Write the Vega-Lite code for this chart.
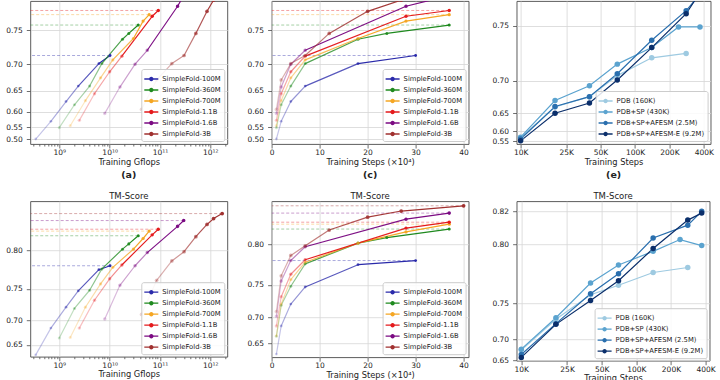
{
"$schema": "https://vega.github.io/schema/vega-lite/v6.json",
"padding": {"left": 4.3, "right": 3, "top": 0, "bottom": 0},
"datasets": {
"sf": [
{"model":"SimpleFold-100M","step":1,"gflops":3.4e8,"top":0.500,"tm":0.625},
{"model":"SimpleFold-100M","step":2,"gflops":6.8e8,"top":0.571,"tm":0.685},
{"model":"SimpleFold-100M","step":4,"gflops":1.36e9,"top":0.626,"tm":0.722},
{"model":"SimpleFold-100M","step":7,"gflops":2.38e9,"top":0.660,"tm":0.747},
{"model":"SimpleFold-100M","step":18,"gflops":6.12e9,"top":0.701,"tm":0.776},
{"model":"SimpleFold-100M","step":30,"gflops":1.02e10,"top":0.714,"tm":0.781},
{"model":"SimpleFold-360M","step":1,"gflops":1e9,"top":0.549,"tm":0.665},
{"model":"SimpleFold-360M","step":2,"gflops":2e9,"top":0.618,"tm":0.720},
{"model":"SimpleFold-360M","step":4,"gflops":4e9,"top":0.660,"tm":0.748},
{"model":"SimpleFold-360M","step":7,"gflops":7e9,"top":0.701,"tm":0.777},
{"model":"SimpleFold-360M","step":18,"gflops":1.8e10,"top":0.738,"tm":0.801},
{"model":"SimpleFold-360M","step":24,"gflops":2.4e10,"top":0.746,"tm":0.807},
{"model":"SimpleFold-360M","step":37,"gflops":3.7e10,"top":0.757,"tm":0.816},
{"model":"SimpleFold-700M","step":1,"gflops":1.65e9,"top":0.556,"tm":0.666},
{"model":"SimpleFold-700M","step":2,"gflops":3.3e9,"top":0.628,"tm":0.722},
{"model":"SimpleFold-700M","step":4,"gflops":6.6e9,"top":0.676,"tm":0.757},
{"model":"SimpleFold-700M","step":7,"gflops":1.155e10,"top":0.707,"tm":0.779},
{"model":"SimpleFold-700M","step":18,"gflops":2.97e10,"top":0.739,"tm":0.801},
{"model":"SimpleFold-700M","step":28,"gflops":4.62e10,"top":0.762,"tm":0.813},
{"model":"SimpleFold-700M","step":37,"gflops":6.105e10,"top":0.770,"tm":0.821},
{"model":"SimpleFold-1.1B","step":1,"gflops":2.5e9,"top":0.574,"tm":0.685},
{"model":"SimpleFold-1.1B","step":2,"gflops":5e9,"top":0.644,"tm":0.733},
{"model":"SimpleFold-1.1B","step":4,"gflops":1e10,"top":0.687,"tm":0.764},
{"model":"SimpleFold-1.1B","step":7,"gflops":1.75e10,"top":0.713,"tm":0.782},
{"model":"SimpleFold-1.1B","step":28,"gflops":7e10,"top":0.768,"tm":0.817},
{"model":"SimpleFold-1.1B","step":37,"gflops":9.25e10,"top":0.775,"tm":0.823},
{"model":"SimpleFold-1.6B","step":1,"gflops":8e9,"top":0.595,"tm":0.702},
{"model":"SimpleFold-1.6B","step":2,"gflops":1.6e10,"top":0.658,"tm":0.755},
{"model":"SimpleFold-1.6B","step":4,"gflops":3.2e10,"top":0.700,"tm":0.781},
{"model":"SimpleFold-1.6B","step":7,"gflops":5.6e10,"top":0.722,"tm":0.797},
{"model":"SimpleFold-1.6B","step":28,"gflops":2.24e11,"top":0.780,"tm":0.826},
{"model":"SimpleFold-1.6B","step":37,"gflops":2.96e11,"top":0.792,"tm":0.832},
{"model":"SimpleFold-3B","step":1,"gflops":4.3e10,"top":0.606,"tm":0.710},
{"model":"SimpleFold-3B","step":2,"gflops":8.6e10,"top":0.672,"tm":0.762},
{"model":"SimpleFold-3B","step":4,"gflops":1.72e11,"top":0.701,"tm":0.787},
{"model":"SimpleFold-3B","step":7,"gflops":3.01e11,"top":0.714,"tm":0.798},
{"model":"SimpleFold-3B","step":12,"gflops":5.16e11,"top":0.746,"tm":0.815},
{"model":"SimpleFold-3B","step":20,"gflops":8.6e11,"top":0.774,"tm":0.828},
{"model":"SimpleFold-3B","step":27,"gflops":1.161e12,"top":0.787,"tm":0.834},
{"model":"SimpleFold-3B","step":40,"gflops":1.72e12,"top":0.800,"tm":0.839}
],
"ds": [
{"data":"PDB (160K)","steps":10000,"top":0.572,"tm":0.678},
{"data":"PDB (160K)","steps":20000,"top":0.662,"tm":0.731},
{"data":"PDB (160K)","steps":40000,"top":0.679,"tm":0.759},
{"data":"PDB (160K)","steps":70000,"top":0.706,"tm":0.768},
{"data":"PDB (160K)","steps":140000,"top":0.724,"tm":0.779},
{"data":"PDB (160K)","steps":280000,"top":0.728,"tm":0.783},
{"data":"PDB+SP (430K)","steps":10000,"top":0.575,"tm":0.680},
{"data":"PDB+SP (430K)","steps":20000,"top":0.673,"tm":0.733},
{"data":"PDB+SP (430K)","steps":40000,"top":0.694,"tm":0.770},
{"data":"PDB+SP (430K)","steps":70000,"top":0.718,"tm":0.785},
{"data":"PDB+SP (430K)","steps":140000,"top":0.733,"tm":0.795},
{"data":"PDB+SP (430K)","steps":240000,"top":0.749,"tm":0.803},
{"data":"PDB+SP (430K)","steps":370000,"top":0.749,"tm":0.799},
{"data":"PDB+SP+AFESM (2.5M)","steps":10000,"top":0.565,"tm":0.667},
{"data":"PDB+SP+AFESM (2.5M)","steps":20000,"top":0.663,"tm":0.725},
{"data":"PDB+SP+AFESM (2.5M)","steps":40000,"top":0.679,"tm":0.760},
{"data":"PDB+SP+AFESM (2.5M)","steps":70000,"top":0.708,"tm":0.778},
{"data":"PDB+SP+AFESM (2.5M)","steps":140000,"top":0.739,"tm":0.804},
{"data":"PDB+SP+AFESM (2.5M)","steps":280000,"top":0.760,"tm":0.812},
{"data":"PDB+SP+AFESM (2.5M)","steps":370000,"top":0.770,"tm":0.820},
{"data":"PDB+SP+AFESM-E (9.2M)","steps":10000,"top":0.553,"tm":0.659},
{"data":"PDB+SP+AFESM-E (9.2M)","steps":20000,"top":0.650,"tm":0.724},
{"data":"PDB+SP+AFESM-E (9.2M)","steps":40000,"top":0.669,"tm":0.753},
{"data":"PDB+SP+AFESM-E (9.2M)","steps":70000,"top":0.701,"tm":0.772},
{"data":"PDB+SP+AFESM-E (9.2M)","steps":140000,"top":0.733,"tm":0.797},
{"data":"PDB+SP+AFESM-E (9.2M)","steps":280000,"top":0.758,"tm":0.815},
{"data":"PDB+SP+AFESM-E (9.2M)","steps":370000,"top":0.771,"tm":0.819}
]
},
"vconcat": [
{
"hconcat": [
{
"hconcat": [
{
"width": 197, "height": 143,
"data": {"name": "sf"},
"title": {"text": "(a)", "orient": "bottom", "fontWeight": "bold", "fontSize": 9.5, "offset": 5},
"encoding": {
"x": {"field": "gflops", "type": "quantitative", "scale": {"type": "log", "domain": [2.653e8, 2.176e12], "nice": false},
 "axis": {"title": "Training Gflops", "grid": true, "values": [3e8,4e8,5e8,6e8,7e8,8e8,9e8,1e9,2e9,3e9,4e9,5e9,6e9,7e9,8e9,9e9,1e10,2e10,3e10,4e10,5e10,6e10,7e10,8e10,9e10,1e11,2e11,3e11,4e11,5e11,6e11,7e11,8e11,9e11,1e12,2e12],
 "labelExpr": "datum.value == 1e9 ? '10⁹' : datum.value == 1e10 ? '10¹⁰' : datum.value == 1e11 ? '10¹¹' : datum.value == 1e12 ? '10¹²' : ''",
 "tickSize": {"condition": {"test": "indexof([1e9,1e10,1e11,1e12], datum.value) >= 0", "value": 4}, "value": 2},
 "gridOpacity": {"condition": {"test": "indexof([1e9,1e10,1e11,1e12], datum.value) >= 0", "value": 1}, "value": 0}}},
"y": {"field": "top", "type": "quantitative", "scale": {"type": "pow", "exponent": 4.3, "domain": [0.4725, 0.786], "nice": false, "zero": false}, "axis": {"title": null, "grid": true, "values": [0.5,0.55,0.6,0.65,0.7,0.75], "format": ".2f"}}
},
"layer": [
{
"transform": [{"joinaggregate": [{"op": "max", "field": "step", "as": "maxstep"}], "groupby": ["model"]}, {"filter": "datum.step == datum.maxstep"}],
"mark": {"type": "rule", "strokeDash": [3, 2], "strokeWidth": 0.8, "opacity": 0.5, "clip": true},
"encoding": {
"x2": {"datum": 2.653e8},
"stroke": {"field": "model", "type": "nominal", "scale": {"domain": ["SimpleFold-100M","SimpleFold-360M","SimpleFold-700M","SimpleFold-1.1B","SimpleFold-1.6B","SimpleFold-3B"], "range": ["#2a2aaa","#1f8a1f","#f5a623","#e41a1c","#7b0a82","#a0302f"]}, "legend": null}
}
},
{
"transform": [{"window": [{"op": "lead", "field": "gflops", "as": "nx"}, {"op": "lead", "field": "top", "as": "ny"}, {"op": "lead", "field": "step", "as": "ns"}], "groupby": ["model"], "sort": [{"field": "step"}]}, {"filter": "isValid(datum.nx)"}],
"mark": {"type": "rule", "strokeWidth": 1.2, "strokeCap": "round", "clip": true},
"encoding": {
"x2": {"field": "nx"},
"y2": {"field": "ny"},
"stroke": {"field": "model", "type": "nominal", "scale": {"domain": ["SimpleFold-100M","SimpleFold-360M","SimpleFold-700M","SimpleFold-1.1B","SimpleFold-1.6B","SimpleFold-3B"], "range": ["#2a2aaa","#1f8a1f","#f5a623","#e41a1c","#7b0a82","#a0302f"]}, "legend": null},
"opacity": {"field": "ns", "type": "quantitative", "scale": {"type": "sqrt", "domain": [1, 30], "range": [0.2, 1], "clamp": true}, "legend": null}
}
},
{
"mark": {"type": "point", "filled": true, "clip": true},
"encoding": {
"color": {"field": "model", "type": "nominal", "scale": {"domain": ["SimpleFold-100M","SimpleFold-360M","SimpleFold-700M","SimpleFold-1.1B","SimpleFold-1.6B","SimpleFold-3B"], "range": ["#2a2aaa","#1f8a1f","#f5a623","#e41a1c","#7b0a82","#a0302f"]}, "legend": {"title": null}},
"size": {"field": "model", "type": "ordinal", "scale": {"domain": ["SimpleFold-100M","SimpleFold-360M","SimpleFold-700M","SimpleFold-1.1B","SimpleFold-1.6B","SimpleFold-3B"], "range": [8, 14, 24, 36, 55, 85]}, "legend": null},
"opacity": {"field": "step", "type": "quantitative", "scale": {"type": "sqrt", "domain": [1, 30], "range": [0.25, 1], "clamp": true}, "legend": null}
}
}
]
},
{
"width": 197, "height": 143,
"data": {"name": "sf"},
"title": {"text": "(c)", "orient": "bottom", "fontWeight": "bold", "fontSize": 9.5, "offset": 5},
"encoding": {
"x": {"field": "step", "type": "quantitative", "scale": {"domain": [0, 41.04], "nice": false, "zero": false}, "axis": {"title": "Training Steps (×10⁴)", "grid": true, "values": [0, 10, 20, 30, 40]}},
"y": {"field": "top", "type": "quantitative", "scale": {"type": "pow", "exponent": 4.3, "domain": [0.4725, 0.786], "nice": false, "zero": false}, "axis": {"title": null, "grid": true, "values": [0.5,0.55,0.6,0.65,0.7,0.75], "format": ".2f"}}
},
"layer": [
{
"transform": [{"joinaggregate": [{"op": "max", "field": "step", "as": "maxstep"}], "groupby": ["model"]}, {"filter": "datum.step == datum.maxstep"}],
"mark": {"type": "rule", "strokeDash": [3, 2], "strokeWidth": 0.8, "opacity": 0.5, "clip": true},
"encoding": {
"x2": {"datum": 0},
"stroke": {"field": "model", "type": "nominal", "scale": {"domain": ["SimpleFold-100M","SimpleFold-360M","SimpleFold-700M","SimpleFold-1.1B","SimpleFold-1.6B","SimpleFold-3B"], "range": ["#2a2aaa","#1f8a1f","#f5a623","#e41a1c","#7b0a82","#a0302f"]}, "legend": null}
}
},
{
"transform": [{"window": [{"op": "lead", "field": "top", "as": "ny"}, {"op": "lead", "field": "step", "as": "ns"}], "groupby": ["model"], "sort": [{"field": "step"}]}, {"filter": "isValid(datum.ns)"}],
"mark": {"type": "rule", "strokeWidth": 1.2, "strokeCap": "round", "clip": true},
"encoding": {
"x2": {"field": "ns"},
"y2": {"field": "ny"},
"stroke": {"field": "model", "type": "nominal", "scale": {"domain": ["SimpleFold-100M","SimpleFold-360M","SimpleFold-700M","SimpleFold-1.1B","SimpleFold-1.6B","SimpleFold-3B"], "range": ["#2a2aaa","#1f8a1f","#f5a623","#e41a1c","#7b0a82","#a0302f"]}, "legend": null},
"opacity": {"field": "ns", "type": "quantitative", "scale": {"type": "sqrt", "domain": [1, 30], "range": [0.2, 1], "clamp": true}, "legend": null}
}
},
{
"mark": {"type": "point", "filled": true, "clip": true},
"encoding": {
"color": {"field": "model", "type": "nominal", "scale": {"domain": ["SimpleFold-100M","SimpleFold-360M","SimpleFold-700M","SimpleFold-1.1B","SimpleFold-1.6B","SimpleFold-3B"], "range": ["#2a2aaa","#1f8a1f","#f5a623","#e41a1c","#7b0a82","#a0302f"]}, "legend": {"title": null}},
"size": {"field": "model", "type": "ordinal", "scale": {"domain": ["SimpleFold-100M","SimpleFold-360M","SimpleFold-700M","SimpleFold-1.1B","SimpleFold-1.6B","SimpleFold-3B"], "range": [8, 14, 24, 36, 55, 85]}, "legend": null},
"opacity": {"field": "step", "type": "quantitative", "scale": {"type": "sqrt", "domain": [1, 30], "range": [0.25, 1], "clamp": true}, "legend": null}
}
}
]
}
],
"spacing": 17.3,
"resolve": {"scale": {"color": "independent"}, "legend": {"color": "independent"}}
},
{
"width": 194, "height": 143,
"data": {"name": "ds"},
"title": {"text": "(e)", "orient": "bottom", "fontWeight": "bold", "fontSize": 9.5, "offset": 5},
"encoding": {
"x": {"field": "steps", "type": "quantitative", "scale": {"type": "log", "domain": [9227, 457900], "nice": false}, "axis": {"title": "Training Steps", "grid": true, "values": [10000, 25000, 50000, 100000, 200000, 400000], "labelExpr": "(datum.value / 1000) + 'K'"}},
"y": {"field": "top", "type": "quantitative", "scale": {"type": "pow", "exponent": 8.5, "domain": [0.527, 0.766], "nice": false, "zero": false}, "axis": {"title": null, "grid": true, "values": [0.55,0.6,0.65,0.7,0.75], "format": ".2f"}}
},
"layer": [
{
"mark": {"type": "line", "strokeWidth": 1.2, "clip": true},
"encoding": {
"stroke": {"field": "data", "type": "nominal", "scale": {"range": ["#9ecae1","#5ba3cf","#2a6fae","#0b2f6b"]}, "legend": null}
}
},
{
"mark": {"type": "point", "filled": true, "opacity": 1, "size": 30, "clip": true},
"encoding": {
"color": {"field": "data", "type": "nominal", "scale": {"domain": ["PDB (160K)","PDB+SP (430K)","PDB+SP+AFESM (2.5M)","PDB+SP+AFESM-E (9.2M)"], "range": ["#9ecae1","#5ba3cf","#2a6fae","#0b2f6b"]}, "legend": {"title": null}}
}
}
]
}
],
"spacing": 21.3,
"resolve": {"scale": {"color": "independent", "stroke": "independent"}, "legend": {"color": "independent"}}
},
{
"hconcat": [
{
"hconcat": [
{
"width": 197, "height": 155.5,
"data": {"name": "sf"},
"title": {"text": "TM-Score", "frame": "group"},
"encoding": {
"x": {"field": "gflops", "type": "quantitative", "scale": {"type": "log", "domain": [2.653e8, 2.176e12], "nice": false},
 "axis": {"title": "Training Gflops", "grid": true, "values": [3e8,4e8,5e8,6e8,7e8,8e8,9e8,1e9,2e9,3e9,4e9,5e9,6e9,7e9,8e9,9e9,1e10,2e10,3e10,4e10,5e10,6e10,7e10,8e10,9e10,1e11,2e11,3e11,4e11,5e11,6e11,7e11,8e11,9e11,1e12,2e12],
 "labelExpr": "datum.value == 1e9 ? '10⁹' : datum.value == 1e10 ? '10¹⁰' : datum.value == 1e11 ? '10¹¹' : datum.value == 1e12 ? '10¹²' : ''",
 "tickSize": {"condition": {"test": "indexof([1e9,1e10,1e11,1e12], datum.value) >= 0", "value": 4}, "value": 2},
 "gridOpacity": {"condition": {"test": "indexof([1e9,1e10,1e11,1e12], datum.value) >= 0", "value": 1}, "value": 0}}},
"y": {"field": "tm", "type": "quantitative", "scale": {"type": "pow", "exponent": 4.3, "domain": [0.6202, 0.851], "nice": false, "zero": false}, "axis": {"title": null, "grid": true, "values": [0.65,0.7,0.75,0.8], "format": ".2f"}}
},
"layer": [
{
"transform": [{"joinaggregate": [{"op": "max", "field": "step", "as": "maxstep"}], "groupby": ["model"]}, {"filter": "datum.step == datum.maxstep"}],
"mark": {"type": "rule", "strokeDash": [3, 2], "strokeWidth": 0.8, "opacity": 0.5, "clip": true},
"encoding": {
"x2": {"datum": 2.653e8},
"stroke": {"field": "model", "type": "nominal", "scale": {"domain": ["SimpleFold-100M","SimpleFold-360M","SimpleFold-700M","SimpleFold-1.1B","SimpleFold-1.6B","SimpleFold-3B"], "range": ["#2a2aaa","#1f8a1f","#f5a623","#e41a1c","#7b0a82","#a0302f"]}, "legend": null}
}
},
{
"transform": [{"window": [{"op": "lead", "field": "gflops", "as": "nx"}, {"op": "lead", "field": "tm", "as": "ny"}, {"op": "lead", "field": "step", "as": "ns"}], "groupby": ["model"], "sort": [{"field": "step"}]}, {"filter": "isValid(datum.nx)"}],
"mark": {"type": "rule", "strokeWidth": 1.2, "strokeCap": "round", "clip": true},
"encoding": {
"x2": {"field": "nx"},
"y2": {"field": "ny"},
"stroke": {"field": "model", "type": "nominal", "scale": {"domain": ["SimpleFold-100M","SimpleFold-360M","SimpleFold-700M","SimpleFold-1.1B","SimpleFold-1.6B","SimpleFold-3B"], "range": ["#2a2aaa","#1f8a1f","#f5a623","#e41a1c","#7b0a82","#a0302f"]}, "legend": null},
"opacity": {"field": "ns", "type": "quantitative", "scale": {"type": "sqrt", "domain": [1, 30], "range": [0.2, 1], "clamp": true}, "legend": null}
}
},
{
"mark": {"type": "point", "filled": true, "clip": true},
"encoding": {
"color": {"field": "model", "type": "nominal", "scale": {"domain": ["SimpleFold-100M","SimpleFold-360M","SimpleFold-700M","SimpleFold-1.1B","SimpleFold-1.6B","SimpleFold-3B"], "range": ["#2a2aaa","#1f8a1f","#f5a623","#e41a1c","#7b0a82","#a0302f"]}, "legend": {"title": null}},
"size": {"field": "model", "type": "ordinal", "scale": {"domain": ["SimpleFold-100M","SimpleFold-360M","SimpleFold-700M","SimpleFold-1.1B","SimpleFold-1.6B","SimpleFold-3B"], "range": [8, 14, 24, 36, 55, 85]}, "legend": null},
"opacity": {"field": "step", "type": "quantitative", "scale": {"type": "sqrt", "domain": [1, 30], "range": [0.25, 1], "clamp": true}, "legend": null}
}
}
]
},
{
"width": 197, "height": 156,
"data": {"name": "sf"},
"title": {"text": "TM-Score", "frame": "group"},
"encoding": {
"x": {"field": "step", "type": "quantitative", "scale": {"domain": [0, 41.04], "nice": false, "zero": false}, "axis": {"title": "Training Steps (×10⁴)", "grid": true, "values": [0, 10, 20, 30, 40]}},
"y": {"field": "tm", "type": "quantitative", "scale": {"type": "pow", "exponent": 4.3, "domain": [0.6171, 0.8433], "nice": false, "zero": false}, "axis": {"title": null, "grid": true, "values": [0.65,0.7,0.75,0.8], "format": ".2f"}}
},
"layer": [
{
"transform": [{"joinaggregate": [{"op": "max", "field": "step", "as": "maxstep"}], "groupby": ["model"]}, {"filter": "datum.step == datum.maxstep"}],
"mark": {"type": "rule", "strokeDash": [3, 2], "strokeWidth": 0.8, "opacity": 0.5, "clip": true},
"encoding": {
"x2": {"datum": 0},
"stroke": {"field": "model", "type": "nominal", "scale": {"domain": ["SimpleFold-100M","SimpleFold-360M","SimpleFold-700M","SimpleFold-1.1B","SimpleFold-1.6B","SimpleFold-3B"], "range": ["#2a2aaa","#1f8a1f","#f5a623","#e41a1c","#7b0a82","#a0302f"]}, "legend": null}
}
},
{
"transform": [{"window": [{"op": "lead", "field": "tm", "as": "ny"}, {"op": "lead", "field": "step", "as": "ns"}], "groupby": ["model"], "sort": [{"field": "step"}]}, {"filter": "isValid(datum.ns)"}],
"mark": {"type": "rule", "strokeWidth": 1.2, "strokeCap": "round", "clip": true},
"encoding": {
"x2": {"field": "ns"},
"y2": {"field": "ny"},
"stroke": {"field": "model", "type": "nominal", "scale": {"domain": ["SimpleFold-100M","SimpleFold-360M","SimpleFold-700M","SimpleFold-1.1B","SimpleFold-1.6B","SimpleFold-3B"], "range": ["#2a2aaa","#1f8a1f","#f5a623","#e41a1c","#7b0a82","#a0302f"]}, "legend": null},
"opacity": {"field": "ns", "type": "quantitative", "scale": {"type": "sqrt", "domain": [1, 30], "range": [0.2, 1], "clamp": true}, "legend": null}
}
},
{
"mark": {"type": "point", "filled": true, "clip": true},
"encoding": {
"color": {"field": "model", "type": "nominal", "scale": {"domain": ["SimpleFold-100M","SimpleFold-360M","SimpleFold-700M","SimpleFold-1.1B","SimpleFold-1.6B","SimpleFold-3B"], "range": ["#2a2aaa","#1f8a1f","#f5a623","#e41a1c","#7b0a82","#a0302f"]}, "legend": {"title": null}},
"size": {"field": "model", "type": "ordinal", "scale": {"domain": ["SimpleFold-100M","SimpleFold-360M","SimpleFold-700M","SimpleFold-1.1B","SimpleFold-1.6B","SimpleFold-3B"], "range": [8, 14, 24, 36, 55, 85]}, "legend": null},
"opacity": {"field": "step", "type": "quantitative", "scale": {"type": "sqrt", "domain": [1, 30], "range": [0.25, 1], "clamp": true}, "legend": null}
}
}
]
}
],
"spacing": 17.3,
"resolve": {"scale": {"color": "independent"}, "legend": {"color": "independent"}}
},
{
"width": 193, "height": 159.5,
"data": {"name": "ds"},
"title": {"text": "TM-Score", "frame": "group"},
"encoding": {
"x": {"field": "steps", "type": "quantitative", "scale": {"type": "log", "domain": [9102, 433500], "nice": false}, "axis": {"title": "Training Steps", "grid": true, "values": [10000, 25000, 50000, 100000, 200000, 400000], "labelExpr": "(datum.value / 1000) + 'K'"}},
"y": {"field": "tm", "type": "quantitative", "scale": {"type": "pow", "exponent": 8.5, "domain": [0.649, 0.8255], "nice": false, "zero": false}, "axis": {"title": null, "grid": true, "values": [0.65,0.7,0.75,0.8,0.82], "format": ".2f"}}
},
"layer": [
{
"mark": {"type": "line", "strokeWidth": 1.2, "clip": true},
"encoding": {
"stroke": {"field": "data", "type": "nominal", "scale": {"range": ["#9ecae1","#5ba3cf","#2a6fae","#0b2f6b"]}, "legend": null}
}
},
{
"mark": {"type": "point", "filled": true, "opacity": 1, "size": 30, "clip": true},
"encoding": {
"color": {"field": "data", "type": "nominal", "scale": {"domain": ["PDB (160K)","PDB+SP (430K)","PDB+SP+AFESM (2.5M)","PDB+SP+AFESM-E (9.2M)"], "range": ["#9ecae1","#5ba3cf","#2a6fae","#0b2f6b"]}, "legend": {"title": null}}
}
}
]
}
],
"spacing": 21.3,
"resolve": {"scale": {"color": "independent", "stroke": "independent"}, "legend": {"color": "independent"}}
}
],
"spacing": 10.2,
"resolve": {"scale": {"color": "independent", "stroke": "independent"}, "legend": {"color": "independent"}},
"config": {
"font": "DejaVu Sans",
"view": {"stroke": "#4a4a4a", "strokeWidth": 0.9},
"axis": {"domain": false, "tickColor": "#4a4a4a", "tickSize": 4, "tickWidth": 0.8, "labelFontSize": 7.5, "labelColor": "#222222", "labelPadding": 2, "titleFontSize": 8.3, "titleFontWeight": "normal", "titleColor": "#222222", "titlePadding": 2, "gridColor": "#d6d6d6", "gridWidth": 0.8, "labelFlush": false, "labelOverlap": false},
"axisX": {"labelPadding": 0.5, "titlePadding": 1},
"axisY": {"labelPadding": 4},
"legend": {"orient": "bottom-right", "offset": 3, "symbolType": "M-1,-0.09H1V0.09H-1Z M0.32,0A0.32,0.32,0,1,1,-0.32,0A0.32,0.32,0,1,1,0.32,0Z", "symbolSize": 196, "symbolStrokeWidth": 0, "symbolOpacity": 1, "labelFontSize": 6.8, "labelColor": "#222222", "labelOffset": 4, "rowPadding": -3.3, "padding": 3, "fillColor": "rgba(255,255,255,0.85)", "strokeColor": "#cccccc", "cornerRadius": 2},
"title": {"fontSize": 8.5, "fontWeight": "normal", "color": "#222222", "anchor": "middle", "offset": 1}
}
}
